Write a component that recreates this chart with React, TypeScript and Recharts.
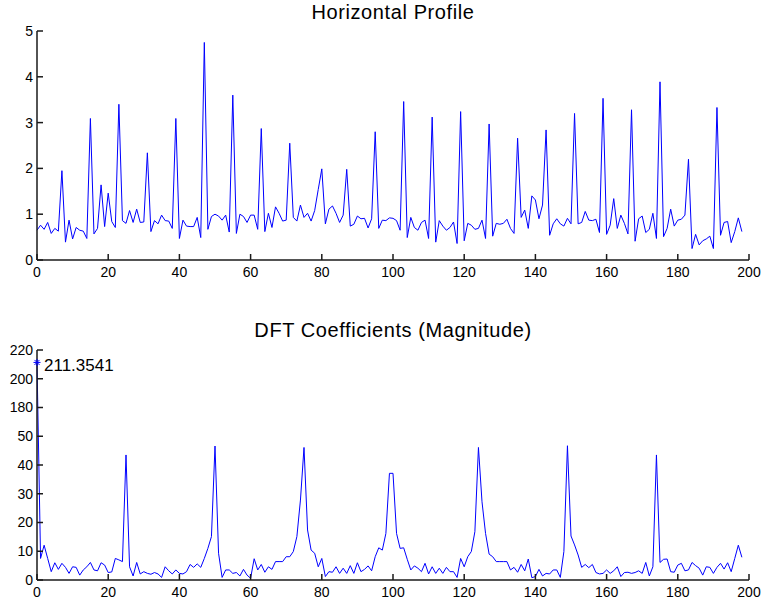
import React from 'react';
import { LineChart, Line, XAxis, YAxis, ReferenceDot } from 'recharts';

// ---------------- data ----------------
const profileValues: number[] = [
  0.65, 0.76, 0.67, 0.82, 0.58, 0.69, 0.63, 1.95, 0.39, 0.87,
  0.46, 0.71, 0.65, 0.63, 0.47, 3.09, 0.57, 0.69, 1.64, 0.73,
  1.46, 0.84, 0.71, 3.40, 0.86, 0.80, 1.08, 0.82, 1.11, 0.82,
  0.83, 2.34, 0.62, 0.86, 0.79, 0.98, 0.86, 0.85, 0.69, 3.09,
  0.47, 0.87, 0.74, 0.73, 0.73, 0.93, 0.49, 4.75, 0.67, 0.95,
  1.00, 0.96, 0.87, 0.98, 0.61, 3.60, 0.58, 1.00, 0.95, 0.82,
  0.98, 0.98, 0.67, 2.87, 0.62, 1.02, 0.71, 1.16, 1.02, 0.85,
  0.87, 2.55, 0.93, 0.85, 1.20, 0.93, 1.02, 0.85, 1.08, 1.54,
  1.99, 0.79, 1.11, 1.18, 1.02, 0.82, 0.98, 1.98, 0.74, 0.78,
  0.96, 0.90, 0.91, 0.70, 0.90, 2.80, 0.69, 0.87, 0.86, 0.92,
  0.91, 0.86, 0.65, 3.46, 0.49, 0.93, 0.71, 0.65, 0.82, 0.87,
  0.47, 3.12, 0.39, 0.86, 0.74, 0.65, 0.71, 0.83, 0.36, 3.24,
  0.42, 0.80, 0.76, 0.67, 0.69, 0.87, 0.47, 2.97, 0.52, 0.80,
  0.78, 0.80, 0.89, 0.69, 0.58, 2.66, 0.93, 1.09, 0.69, 1.40,
  1.31, 0.90, 1.20, 2.84, 0.54, 0.79, 0.90, 0.79, 0.74, 0.91,
  0.79, 3.20, 0.79, 0.82, 1.06, 0.87, 0.86, 0.89, 0.60, 3.53,
  0.56, 0.76, 1.34, 0.69, 0.98, 0.80, 0.57, 3.28, 0.41, 0.90,
  0.96, 0.60, 0.67, 1.02, 0.47, 3.89, 0.51, 0.69, 1.11, 0.74,
  0.87, 0.89, 0.98, 2.20, 0.25, 0.56, 0.33, 0.42, 0.46, 0.52,
  0.25, 3.33, 0.54, 0.82, 0.84, 0.38, 0.62, 0.92, 0.62,
];

const dftMagnitude: number[] = [
  211.3541, 7.5, 12.1, 7.5, 2.9, 6.0, 3.7, 5.8, 4.4, 2.3,
  4.6, 4.4, 1.7, 3.5, 4.6, 6.1, 3.5, 3.2, 6.0, 5.2,
  2.6, 2.8, 7.5, 7.0, 6.4, 43.5, 4.6, 1.4, 6.1, 2.1,
  2.9, 2.3, 2.0, 2.6, 2.1, 0.9, 4.6, 3.2, 2.1, 3.5,
  2.3, 2.1, 2.9, 5.4, 4.4, 5.6, 4.4, 7.5, 11.0, 15.1,
  46.6, 9.3, 0.9, 3.5, 3.5, 2.3, 2.6, 1.4, 3.7, 1.7,
  0.6, 7.4, 3.5, 5.4, 2.7, 4.6, 3.7, 6.4, 6.4, 6.4,
  8.1, 8.1, 9.9, 15.1, 27.8, 46.1, 17.4, 10.4, 9.3, 4.6,
  7.5, 1.2, 2.9, 2.7, 4.6, 2.3, 4.1, 2.3, 5.0, 2.3,
  6.0, 2.9, 3.7, 4.9, 3.2, 8.1, 11.2, 10.4, 16.2, 37.1,
  37.1, 16.2, 11.0, 11.2, 7.2, 3.5, 4.9, 4.1, 2.9, 5.8,
  2.1, 4.6, 2.3, 4.1, 2.3, 4.4, 2.9, 2.9, 0.9, 7.5,
  4.6, 8.1, 9.9, 16.8, 46.1, 27.2, 16.2, 9.0, 8.1, 6.4,
  6.4, 6.4, 6.4, 3.5, 4.4, 2.7, 5.4, 3.2, 7.3, 0.8,
  1.2, 3.7, 1.4, 2.3, 2.1, 3.5, 3.5, 0.9, 9.9, 46.7,
  15.3, 12.2, 8.7, 4.4, 5.4, 4.3, 5.4, 2.6, 2.1, 2.3,
  3.5, 2.3, 3.2, 4.6, 1.2, 2.6, 2.7, 2.3, 2.6, 3.2,
  2.3, 6.1, 1.4, 4.6, 43.5, 6.1, 7.2, 7.3, 2.9, 2.7,
  5.2, 5.8, 3.2, 3.5, 6.1, 5.0, 4.1, 1.7, 4.6, 4.4,
  2.3, 4.4, 5.8, 3.8, 6.0, 2.9, 7.5, 12.1, 7.9,
];

const xTicks = [0, 20, 40, 60, 80, 100, 120, 140, 160, 180, 200];
const profileYTicks = [0, 1, 2, 3, 4, 5];
const dftTickValues = [0, 10, 20, 30, 40, 50, 180, 200, 220];
const dftTickLabels = dftTickValues.map(String);

const topTitle = 'Horizontal Profile';
const bottomTitle = 'DFT Coefficients (Magnitude)';

// piecewise (broken) axis: real value -> evenly spaced tick position
const warp = (v: number): number => {
  for (let j = 0; j < dftTickValues.length - 1; j++) {
    const a = dftTickValues[j];
    const b = dftTickValues[j + 1];
    if (v <= b || j === dftTickValues.length - 2) {
      return j + (v - a) / (b - a);
    }
  }
  return 0;
};
const dftPositions = dftTickValues.map((_, i) => i);

const profileRows = profileValues.map((v, k) => ({ k, v }));
const dftRows = dftMagnitude.map((m, k) => ({ k, m, p: warp(m) }));

// ---------------- styles ----------------
const FONT = '"Liberation Sans", Arial, Helvetica, sans-serif';
const AXIS = '#1a1a1a';
const BLUE = '#0000ff';
const tickStyle = { fill: '#000', fontSize: 14, fontFamily: FONT };

const StarLabel = (props: any) => {
  const { cx, cy } = props;
  const s = 3.5;
  const d = 2.5;
  return (
    <g>
      <line x1={cx - s} x2={cx + s} y1={cy} y2={cy} stroke={BLUE} strokeWidth={1} />
      <line x1={cx} x2={cx} y1={cy - s} y2={cy + s} stroke={BLUE} strokeWidth={1} />
      <line x1={cx - d} x2={cx + d} y1={cy - d} y2={cy + d} stroke={BLUE} strokeWidth={1} />
      <line x1={cx - d} x2={cx + d} y1={cy + d} y2={cy - d} stroke={BLUE} strokeWidth={1} />
      <text x={cx + 7} y={cy + 8.5} fontSize={17} fontFamily={FONT} fill="#000">
        {dftMagnitude[0].toFixed(4)}
      </text>
    </g>
  );
};

const axesFor = (domainY: [number, number], yTicks: number[], fmt?: (v: number) => string) => [
  <XAxis
    key="xb"
    xAxisId="b"
    dataKey="k"
    type="number"
    domain={[0, 200]}
    ticks={xTicks}
    interval={0}
    tickSize={-6}
    tickMargin={13}
    height={20}
    stroke={AXIS}
    strokeWidth={1.5}
    tick={tickStyle}
  />,
  <XAxis
    key="xt"
    xAxisId="t"
    orientation="top"
    dataKey="k"
    type="number"
    domain={[0, 200]}
    ticks={xTicks}
    interval={0}
    tickSize={-6}
    height={0}
    stroke={AXIS}
    strokeWidth={1.5}
    tick={false}
  />,
  <YAxis
    key="yl"
    yAxisId="l"
    type="number"
    domain={domainY}
    ticks={yTicks}
    interval={0}
    tickSize={-6}
    tickMargin={10}
    width={37}
    stroke={AXIS}
    strokeWidth={1.5}
    tick={tickStyle}
    tickFormatter={fmt}
  />,
  <YAxis
    key="yr"
    yAxisId="r"
    orientation="right"
    type="number"
    domain={domainY}
    ticks={yTicks}
    interval={0}
    tickSize={-6}
    width={0}
    stroke={AXIS}
    strokeWidth={1.5}
    tick={false}
  />,
];

export default function App() {
  return (
    <div style={{ position: 'absolute', left: 0, top: 0, width: 761, height: 600, background: '#fff' }}>
      <div style={{ position: 'absolute', left: 0, top: 0 }}>
        <LineChart width={761} height={300} data={profileRows} margin={{ top: 31, right: 12, bottom: 20, left: 0 }}>
          {axesFor([0, 5], profileYTicks)}
          <Line
            xAxisId="b"
            yAxisId="l"
            dataKey="v"
            type="linear"
            stroke={BLUE}
            strokeWidth={1}
            dot={false}
            isAnimationActive={false}
          />
        </LineChart>
      </div>
      <div style={{ position: 'absolute', left: 0, top: 300 }}>
        <LineChart width={761} height={300} data={dftRows} margin={{ top: 50, right: 12, bottom: 0, left: 0 }}>
          {axesFor([0, dftPositions.length - 1], dftPositions, (v: number) => dftTickLabels[v] ?? '')}
          <Line
            xAxisId="b"
            yAxisId="l"
            dataKey="p"
            type="linear"
            stroke={BLUE}
            strokeWidth={1}
            dot={false}
            isAnimationActive={false}
          />
          <ReferenceDot
            xAxisId="b"
            yAxisId="l"
            x={dftRows[0].k}
            y={dftRows[0].p}
            r={4}
            ifOverflow="visible"
            shape={StarLabel}
          />
        </LineChart>
      </div>
      <svg width={761} height={600} style={{ position: 'absolute', left: 0, top: 0, pointerEvents: 'none' }}>
        <text x={393} y={19} textAnchor="middle" fontSize={20} letterSpacing={0.6} fontFamily={FONT} fill="#000">
          {topTitle}
        </text>
        <text x={393} y={337} textAnchor="middle" fontSize={20} letterSpacing={0.6} fontFamily={FONT} fill="#000">
          {bottomTitle}
        </text>
      </svg>
    </div>
  );
}
